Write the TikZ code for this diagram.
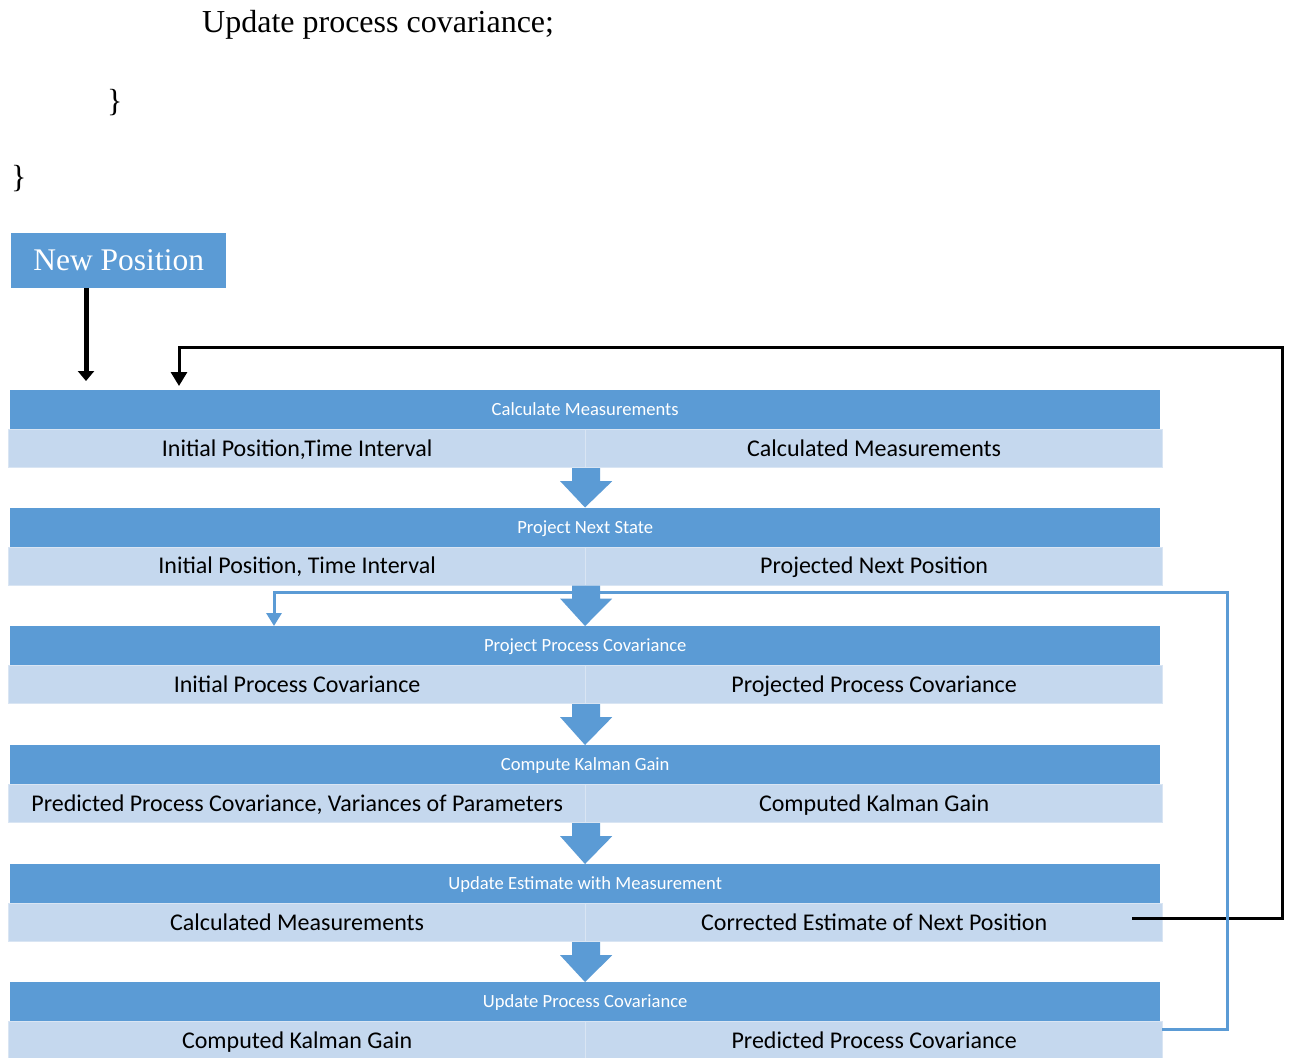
\documentclass[tikz,border=0pt]{standalone}
\usepackage{fontspec}
\setmainfont{Liberation Serif}
\newfontfamily\calibrifont{Carlito}
\usetikzlibrary{arrows.meta,calc}
\definecolor{dblue}{HTML}{5B9BD5}
\definecolor{lblue}{HTML}{C5D8EE}
\definecolor{lborder}{HTML}{D9E5F3}
\begin{document}
\begin{tikzpicture}[x=1pt,y=-1pt,
  hdr/.style={fill=dblue, draw=none, minimum width=1150pt, minimum height=39pt, inner sep=0pt,
    anchor=north west, text=white, text height=14pt, text depth=2pt,
    font=\calibrifont\fontsize{18.6}{20}\selectfont},
  cellbox/.style={fill=lblue, draw=lborder, line width=1.2pt, minimum width=577pt, minimum height=38pt,
    inner sep=0pt, anchor=north west, text height=17.5pt, text depth=2pt,
    font=\calibrifont\fontsize{24}{28}\selectfont},
  blockarrow/.style={fill=dblue, draw=none},
  plain/.style={font=\fontsize{32}{36}\selectfont, inner sep=0pt, anchor=base west},
  feedback/.style={draw=black, line width=3pt, -{Triangle[width=16pt,length=14pt]}},
  bluelink/.style={draw=dblue, line width=3pt, -{Triangle[width=15pt,length=13pt]}}
]
\useasboundingbox (0,0) rectangle (1289,1057);
\fill[white] (0,0) rectangle (1289,1057);

% top text
\node[plain] (t1) at (202,33) {Update process covariance;};
\node[plain] (t2) at (107,111) {\}};
\node[plain] (t3) at (11,187) {\}};

% new position box
\node[fill=dblue, text=white, minimum width=215pt, minimum height=55pt, inner sep=0pt, anchor=north west,
  font=\fontsize{31.5}{36}\selectfont] (np) at (11,232.5) {New Position};

% bands
\foreach \i/\top/\h/\l/\r in {
  1/390/Calculate Measurements/{Initial Position,Time Interval}/Calculated Measurements,
  2/507.5/Project Next State/{Initial Position, Time Interval}/Projected Next Position,
  3/626/Project Process Covariance/Initial Process Covariance/Projected Process Covariance,
  4/745/Compute Kalman Gain/{Predicted Process Covariance, Variances of Parameters}/Computed Kalman Gain,
  5/864/Update Estimate with Measurement/Calculated Measurements/Corrected Estimate of Next Position,
  6/982/Update Process Covariance/Computed Kalman Gain/Predicted Process Covariance}{
  \node[hdr] (h\i) at (10,\top) {\h};
  \node[cellbox] (cl\i) at (8,\top+39) {\l};
  \node[cellbox] (cr\i) at (585,\top+39) {\r};
}

% block arrows between bands
\foreach \i/\j in {1/2,2/3,3/4,4/5,5/6}{
  \fill[blockarrow] ($(cl\i.south east)+(-14,0)$) -- ($(cl\i.south east)+(14,0)$)
    -- ($(cl\i.south east)+(14,13)$) -- ($(cl\i.south east)+(26,13)$)
    -- ($(h\j.north west)+(575,0)$) -- ($(cl\i.south east)+(-26,13)$)
    -- ($(cl\i.south east)+(-14,13)$) -- cycle;
}

% New Position arrow
\draw[draw=black, line width=5pt, -{Triangle[width=16pt,length=10pt]}] (np.south west) ++(75,0) coordinate (npout)
  -- ($(h1.north west)+(76,-9)$);

% feedback loop (black)
\coordinate (fb0) at (1132,918.5);
\draw[feedback] (fb0) -- (1282,918.5) -- (1282,347) -| ($(h1.north west)+(169,-4)$);

% blue link
\coordinate (bl0) at (1162,1029);
\draw[bluelink] (bl0) -- (1227,1029) -- (1227,592) -| ($(h3.north west)+(264,0)$);
\end{tikzpicture}
\end{document}
